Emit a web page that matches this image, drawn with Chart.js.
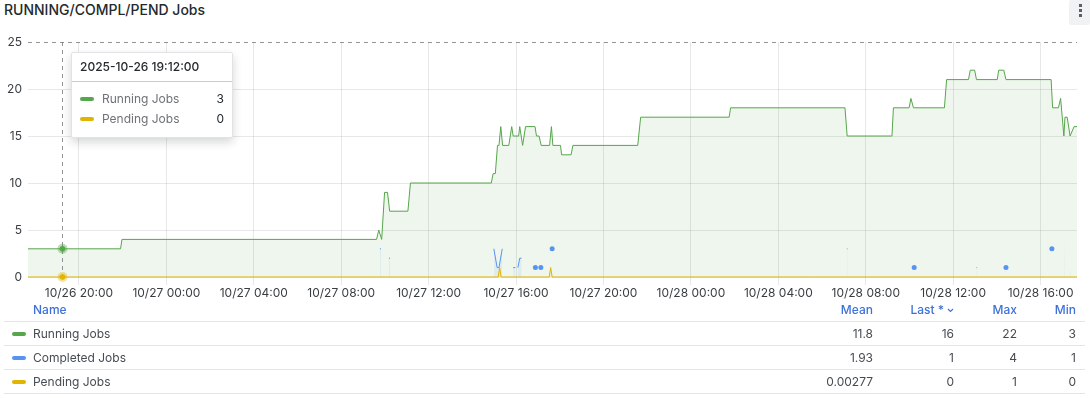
<!DOCTYPE html>
<html lang="en">
<head>
    <meta charset="UTF-8">
    <title>RUNNING/COMPL/PEND Jobs</title>
    <script src="https://cdn.jsdelivr.net/npm/chart.js"></script>
    <style>
        html, body { margin: 0; padding: 0; background: #fff; }
        body {
            width: 1090px; height: 398px; position: relative; overflow: hidden;
            font-family: Inter, "Noto Sans", sans-serif; color: #24292e;
        }
        .title { position: absolute; left: 4px; top: 1px; font-size: 14px; font-weight: 500; line-height: 18px; }
        .menu { position: absolute; left: 1069px; top: 0; width: 21px; height: 25px; background: #f1f2f3; border-radius: 2px; }
        .menu span { position: absolute; left: 10px; width: 3px; height: 3px; background: #5b6068; }
        #chartBox { position: absolute; left: 0; top: 0; width: 1090px; height: 302px; }

        .tip {
            position: absolute; left: 71px; top: 52px; width: 162px; height: 86px; box-sizing: border-box;
            background: #fff; border: 1px solid #e2e3e5; border-radius: 2px;
            box-shadow: 0 4px 10px rgba(24, 26, 27, 0.18);
        }
        .tip .head { height: 28px; line-height: 28px; padding-left: 8px; font-size: 12px; font-weight: 500; border-bottom: 1px solid #c9cbcf; }
        .tip .rows { padding-top: 7px; }
        .tip .row { position: relative; height: 20px; line-height: 20px; font-size: 12px; }
        .tip .sw { position: absolute; left: 8px; top: 8px; width: 14px; height: 4px; border-radius: 2px; }
        .tip .lab { position: absolute; left: 30px; color: #6e7278; }
        .tip .val { position: absolute; right: 8px; color: #24292e; }

        .legend { position: absolute; left: 0; top: 298px; width: 1090px; font-size: 12px; }
        .lrow { position: relative; height: 23px; line-height: 23px; margin-left: 4px; width: 1081px; border-bottom: 1px solid #e4e5e7; color: #464c54; }
        .lrow.head { color: #3d71d9; font-weight: 500; }
        .lrow .sw { position: absolute; left: 8px; top: 10px; width: 14px; height: 4px; border-radius: 2px; }
        .lrow .name { position: absolute; left: 29px; }
        .lrow .c { position: absolute; text-align: right; }
    </style>
</head>
<body>

    <div class="title">RUNNING/COMPL/PEND Jobs</div>
    <div class="menu"><span style="top:4px"></span><span style="top:9px"></span><span style="top:14px"></span></div>

    <div id="chartBox"><canvas id="jobsChart" width="1090" height="302"></canvas></div>

    <div class="tip" id="tip"></div>
    <div class="legend" id="legend"></div>

    <script>
        // ---- data (times, 10/26 - 10/28) ----
        const year = '2025';
        const rangeStart = '10/26 17:40';
        const rangeEnd = '10/28 17:40';
        const hoverTime = '10/26 19:12';

        const xTickLabels = ['10/26 20:00', '10/27 00:00', '10/27 04:00', '10/27 08:00', '10/27 12:00', '10/27 16:00',
                             '10/27 20:00', '10/28 00:00', '10/28 04:00', '10/28 08:00', '10/28 12:00', '10/28 16:00'];
        const yTicks = [0, 5, 10, 15, 20, 25];

        const seriesNames = ['Running Jobs', 'Completed Jobs', 'Pending Jobs'];
        const seriesColors = ['#56A64B', '#5794F2', '#E0B400'];

        const runTimes = ['10/26 17:40', '10/26 19:12', '10/26 21:54', '10/26 21:58',
            '10/27 09:37', '10/27 09:43', '10/27 09:51', '10/27 09:59', '10/27 10:07', '10/27 10:13',
            '10/27 11:03', '10/27 11:10', '10/27 14:52', '10/27 14:57', '10/27 15:03', '10/27 15:09',
            '10/27 15:13', '10/27 15:18', '10/27 15:23', '10/27 15:40', '10/27 15:48', '10/27 15:52',
            '10/27 16:07', '10/27 16:10', '10/27 16:18', '10/27 16:26', '10/27 16:52', '10/27 16:56',
            '10/27 17:03', '10/27 17:09', '10/27 17:32', '10/27 17:37', '10/27 17:41', '10/27 18:02',
            '10/27 18:05', '10/27 18:31', '10/27 18:36', '10/27 21:34', '10/27 21:42',
            '10/28 01:45', '10/28 01:49', '10/28 07:03', '10/28 07:09', '10/28 09:12', '10/28 09:16',
            '10/28 09:59', '10/28 10:04', '10/28 10:11', '10/28 11:36', '10/28 11:42', '10/28 12:42',
            '10/28 12:47', '10/28 12:59', '10/28 13:04', '10/28 14:01', '10/28 14:05', '10/28 14:19',
            '10/28 14:25', '10/28 16:29', '10/28 16:33', '10/28 16:49', '10/28 16:55', '10/28 17:04',
            '10/28 17:07', '10/28 17:13', '10/28 17:21', '10/28 17:32', '10/28 17:40'];
        const runValues = [3, 3, 3, 4,
            4, 5, 4, 9, 9, 7,
            7, 10, 10, 11, 11, 14,
            14, 16, 14, 14, 16, 15,
            15, 16, 14, 16, 16, 15,
            15, 14, 14, 16, 14, 14,
            13, 13, 14, 14, 17,
            17, 18, 18, 15, 15, 18,
            18, 19, 18, 18, 21, 21,
            22, 22, 21, 21, 22, 22,
            21, 21, 18, 18, 19, 15,
            17, 17, 15, 16, 16];

        // null = no sample (gap)
        const compTimes = ['10/27 09:46', '10/27 09:49', '10/27 09:52', '10/27 10:11', '10/27 10:14', '10/27 10:17',
            '10/27 14:59', '10/27 15:08', '10/27 15:13', '10/27 15:22', '10/27 15:26',
            '10/27 15:52', '10/27 15:58', '10/27 16:01', '10/27 16:05', '10/27 16:10', '10/27 16:15', '10/27 16:19',
            '10/27 16:53', '10/27 16:57', '10/27 17:08', '10/27 17:12', '10/27 17:39', '10/27 17:43',
            '10/28 07:08', '10/28 07:10', '10/28 07:13', '10/28 10:13', '10/28 10:17',
            '10/28 13:04', '10/28 13:06', '10/28 13:09', '10/28 14:25', '10/28 14:29',
            '10/28 16:31', '10/28 16:35', '10/28 17:05', '10/28 17:07', '10/28 17:10',
            '10/28 17:21', '10/28 17:23'];
        const compValues = [3, 3, null, 2, 2, null,
            3, 1, 1, 3, null,
            1, 1, null, 1, 2, 2, null,
            1, null, 1, null, 3, null,
            3, 3, null, 1, null,
            1, 1, null, 1, null,
            3, null, 4, 4, null,
            1, 1];

        const pendTimes = ['10/26 17:40', '10/26 19:12', '10/27 15:11', '10/27 15:15', '10/27 15:19',
                           '10/27 17:31', '10/27 17:35', '10/27 17:39', '10/28 17:40'];
        const pendValues = [0, 0, 0, 1, 0, 0, 1, 0, 0];

        // legend table values as shown
        const meanVals = ['11.8', '1.93', '0.00277'];
        const lastVals = ['16', '1', '0'];
        const maxVals = ['22', '4', '1'];
        const minVals = ['3', '1', '0'];

        // ---- helpers ----
        function toHours(s) {
            const [md, hm] = s.split(' ');
            const day = parseInt(md.split('/')[1], 10);
            const [h, m] = hm.split(':').map(Number);
            return (day - 26) * 24 + h + m / 60;
        }
        const pts = (times, vals) => times.map((t, i) => ({ x: toHours(t), y: vals[i] }));
        const tickLabelByHour = {};
        xTickLabels.forEach(l => { tickLabelByHour[toHours(l).toFixed(2)] = l; });

        const seriesTimes = [runTimes, compTimes, pendTimes];
        const seriesVals = [runValues, compValues, pendValues];

        function alpha(hex, a) {
            const n = parseInt(hex.slice(1), 16);
            return `rgba(${n >> 16}, ${(n >> 8) & 255}, ${n & 255}, ${a})`;
        }

        // ---- crosshair + hover markers ----
        const hoverPlugin = {
            id: 'hoverMarks',
            afterDatasetsDraw(chart) {
                const { ctx, chartArea, scales } = chart;
                const hx = Math.round(scales.x.getPixelForValue(toHours(hoverTime))) + 0.5;
                ctx.save();
                ctx.strokeStyle = 'rgba(110,112,118,0.75)';
                ctx.lineWidth = 1;
                ctx.setLineDash([4, 4]);
                ctx.beginPath();
                ctx.moveTo(chartArea.left, chartArea.top + 0.5);
                ctx.lineTo(chartArea.right, chartArea.top + 0.5);
                ctx.moveTo(hx, chartArea.top);
                ctx.lineTo(hx, chartArea.bottom);
                ctx.stroke();
                ctx.setLineDash([]);
                seriesTimes.forEach((times, si) => {
                    const i = times.indexOf(hoverTime);
                    if (i < 0 || seriesVals[si][i] === null) return;
                    const py = scales.y.getPixelForValue(seriesVals[si][i]);
                    ctx.fillStyle = alpha(seriesColors[si], 0.4);
                    ctx.beginPath(); ctx.arc(hx, py, 5, 0, Math.PI * 2); ctx.fill();
                    ctx.fillStyle = seriesColors[si];
                    ctx.beginPath(); ctx.arc(hx, py, 2.8, 0, Math.PI * 2); ctx.fill();
                });
                ctx.restore();
            }
        };

        const gridColor = 'rgba(36, 41, 46, 0.11)';
        const isolated = c => {
            const d = c.dataset.data, i = c.dataIndex;
            if (!d[i] || d[i].y === null) return 0;
            const prevGap = !d[i - 1] || d[i - 1].y === null;
            const nextGap = !d[i + 1] || d[i + 1].y === null;
            return prevGap && nextGap ? 2.5 : 0;
        };

        Chart.defaults.font.family = 'Inter, "Noto Sans", sans-serif';
        Chart.defaults.font.size = 12;
        Chart.defaults.color = 'rgba(36, 41, 46, 0.9)';

        new Chart(document.getElementById('jobsChart').getContext('2d'), {
            type: 'line',
            data: {
                datasets: [
                    {
                        label: seriesNames[0], data: pts(runTimes, runValues), order: 2,
                        borderColor: seriesColors[0], backgroundColor: alpha(seriesColors[0], 0.1),
                        borderWidth: 1, fill: 'origin', pointRadius: 0, tension: 0, clip: false
                    },
                    {
                        label: seriesNames[1], data: pts(compTimes, compValues), order: 1,
                        borderColor: seriesColors[1], backgroundColor: alpha(seriesColors[1], 0.1),
                        pointBackgroundColor: seriesColors[1], pointBorderWidth: 0, pointRadius: isolated,
                        borderWidth: 1, fill: 'origin', spanGaps: false, tension: 0, clip: false
                    },
                    {
                        label: seriesNames[2], data: pts(pendTimes, pendValues), order: 0,
                        borderColor: seriesColors[2], backgroundColor: alpha(seriesColors[2], 0.1),
                        borderWidth: 1, fill: 'origin', pointRadius: 0, tension: 0, clip: false
                    }
                ]
            },
            options: {
                responsive: false,
                animation: false,
                devicePixelRatio: 1,
                layout: { padding: { top: 42, right: 13, left: 0, bottom: 0 } },
                plugins: { legend: { display: false }, tooltip: { enabled: false } },
                events: [],
                scales: {
                    x: {
                        type: 'linear',
                        min: toHours(rangeStart),
                        max: toHours(rangeEnd),
                        afterBuildTicks: axis => { axis.ticks = xTickLabels.map(l => ({ value: toHours(l) })); },
                        afterFit: s => { s.height = 25; },
                        border: { display: false },
                        grid: { color: gridColor, drawTicks: true, tickLength: 8, tickColor: gridColor },
                        ticks: {
                            autoSkip: false, maxRotation: 0, padding: 1,
                            callback: v => tickLabelByHour[Number(v).toFixed(2)] || ''
                        }
                    },
                    y: {
                        min: 0, max: 25,
                        afterBuildTicks: axis => { axis.ticks = yTicks.map(v => ({ value: v })); },
                        afterFit: s => { s.width = 28; },
                        border: { display: false },
                        grid: { drawTicks: false, color: c => (c.tick && c.tick.value === 25 ? 'rgba(0,0,0,0)' : gridColor) },
                        ticks: { padding: 6 }
                    }
                }
            },
            plugins: [hoverPlugin]
        });

        // ---- tooltip box ----
        const tip = document.getElementById('tip');
        const [md, hm] = hoverTime.split(' ');
        let tipHtml = `<div class="head">${year}-${md.replace('/', '-')} ${hm}:00</div><div class="rows">`;
        seriesNames.forEach((name, si) => {
            const i = seriesTimes[si].indexOf(hoverTime);
            if (i < 0 || seriesVals[si][i] === null) return;
            tipHtml += `<div class="row"><span class="sw" style="background:${seriesColors[si]}"></span>` +
                       `<span class="lab">${name}</span><span class="val">${seriesVals[si][i]}</span></div>`;
        });
        tip.innerHTML = tipHtml + '</div>';

        // ---- legend table ----
        const colRights = [1090 - 873, 1090 - 954, 1090 - 1017, 1090 - 1076].map(r => r - 5);
        const chevron = '<svg width="7" height="5" viewBox="0 0 7 5" style="margin-left:3px;vertical-align:1px"><path d="M1 1 L3.5 3.5 L6 1" fill="none" stroke="#3d71d9" stroke-width="1.1"/></svg>';
        const headers = ['Mean', 'Last *' + chevron, 'Max', 'Min'];
        const legend = document.getElementById('legend');
        let html = '<div class="lrow head"><span class="name">Name</span>';
        headers.forEach((h, k) => { html += `<span class="c" style="right:${colRights[k]}px">${h}</span>`; });
        html += '</div>';
        seriesNames.forEach((name, si) => {
            html += `<div class="lrow"><span class="sw" style="background:${seriesColors[si]}"></span><span class="name">${name}</span>`;
            [meanVals, lastVals, maxVals, minVals].forEach((col, k) => {
                html += `<span class="c" style="right:${colRights[k]}px">${col[si]}</span>`;
            });
            html += '</div>';
        });
        legend.innerHTML = html;
    </script>
</body>
</html>
